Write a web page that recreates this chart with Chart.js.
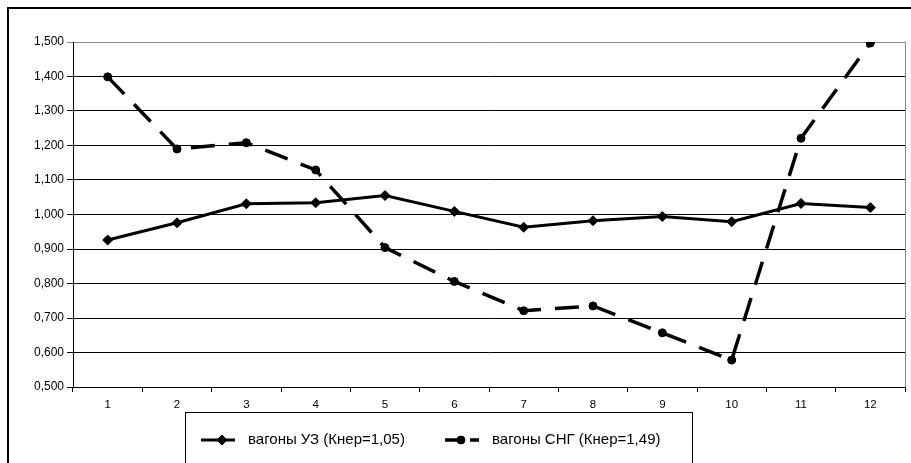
<!doctype html>
<html>
<head>
<meta charset="utf-8">
<title>Вагоны</title>
<script src="https://cdn.jsdelivr.net/npm/chart.js@4.4.1/dist/chart.umd.min.js"></script>
<style>
  html, body { margin: 0; padding: 0; background: #fff; overflow: hidden; }
  #frame { position: absolute; left: 7px; top: 7px; width: 1000px; height: 1000px; border: 2px solid #000; }
  #wrap { position: absolute; left: 0; top: 0; width: 911px; height: 463px; }
</style>
</head>
<body>
<div id="frame"></div>
<div id="wrap"><canvas id="c"></canvas></div>
<script>
var months = ['1', '2', '3', '4', '5', '6', '7', '8', '9', '10', '11', '12'];
var uzLabel = 'вагоны УЗ (Кнер=1,05)';
var sngLabel = 'вагоны СНГ (Кнер=1,49)';
var uzValues = [0.926, 0.976, 1.031, 1.034, 1.055, 1.009, 0.963, 0.982, 0.994, 0.979, 1.032, 1.020];
var sngValues = [1.399, 1.190, 1.208, 1.129, 0.904, 0.806, 0.721, 0.735, 0.657, 0.578, 1.221, 1.497];

// рамка легенды и правая граница области построения
var boxLegend = {
  id: 'boxLegend',
  afterDraw: function(chart) {
    var ctx = chart.ctx, a = chart.chartArea;
    ctx.save();
    ctx.strokeStyle = '#888';
    ctx.lineWidth = 1;
    ctx.beginPath();
    ctx.moveTo(a.right + 0.5, a.top);
    ctx.lineTo(a.right + 0.5, a.bottom);
    ctx.stroke();

    ctx.strokeStyle = '#000';
    ctx.strokeRect(185.5, 412.5, 507, 80);

    var items = [
      { ds: chart.data.datasets[0], x: 201, mark: 222, dash: [], text: 248 },
      { ds: chart.data.datasets[1], x: 445, mark: 461, dash: [17, 8], text: 492 }
    ];
    var cy = 440;
    ctx.font = '15px "Liberation Sans", Arial, sans-serif';
    ctx.textBaseline = 'middle';
    items.forEach(function(it) {
      var ds = it.ds;
      ctx.strokeStyle = '#000';
      ctx.lineWidth = ds.borderWidth;
      ctx.setLineDash(it.dash);
      ctx.beginPath();
      ctx.moveTo(it.x, cy);
      ctx.lineTo(it.x + 34, cy);
      ctx.stroke();
      ctx.setLineDash([]);
      ctx.fillStyle = '#000';
      ctx.lineWidth = 1;
      Chart.helpers.drawPoint(ctx, { pointStyle: ds.pointStyle, radius: ds.pointRadius, borderWidth: 1 }, it.mark, cy);
      ctx.fillStyle = '#000';
      ctx.fillText(ds.label, it.text, cy);
    });
    ctx.restore();
  }
};

new Chart(document.getElementById('c'), {
  type: 'line',
  data: {
    labels: months,
    datasets: [{
      label: uzLabel,
      data: uzValues,
      borderColor: '#000',
      backgroundColor: '#000',
      borderWidth: 3,
      pointStyle: 'rectRot',
      pointRadius: 5,
      pointBorderWidth: 1,
      tension: 0
    }, {
      label: sngLabel,
      data: sngValues,
      borderColor: '#000',
      backgroundColor: '#000',
      borderWidth: 3.5,
      borderDash: [24, 14],
      pointStyle: 'circle',
      pointRadius: 4,
      pointBorderWidth: 1,
      tension: 0
    }]
  },
  options: {
    responsive: true,
    maintainAspectRatio: false,
    animation: false,
    layout: { padding: { left: 0, top: 42, right: 3, bottom: 46 } },
    plugins: { legend: { display: false }, tooltip: { enabled: false } },
    scales: {
      x: {
        offset: true,
        afterFit: function(s) { s.height = 30; },
        grid: { display: true, offset: true, drawOnChartArea: false, tickLength: 5, color: '#000' },
        border: { color: '#000', width: 1 },
        ticks: { color: '#000', font: { family: '"Liberation Sans", Arial, sans-serif', size: 11.5 }, padding: 6, maxRotation: 0 }
      },
      y: {
        min: 0.5,
        max: 1.5,
        afterFit: function(s) { s.width = 73; },
        grid: { color: function(c) { return c.index === 10 ? '#888' : '#000'; }, tickLength: 6, lineWidth: 1 },
        border: { color: '#000', width: 1 },
        ticks: {
          stepSize: 0.1,
          color: '#000',
          padding: 3,
          font: { family: '"Liberation Sans", Arial, sans-serif', size: 12 },
          callback: function(v) { return v.toFixed(3).replace('.', ','); }
        }
      }
    }
  },
  plugins: [boxLegend]
});
</script>
</body>
</html>
